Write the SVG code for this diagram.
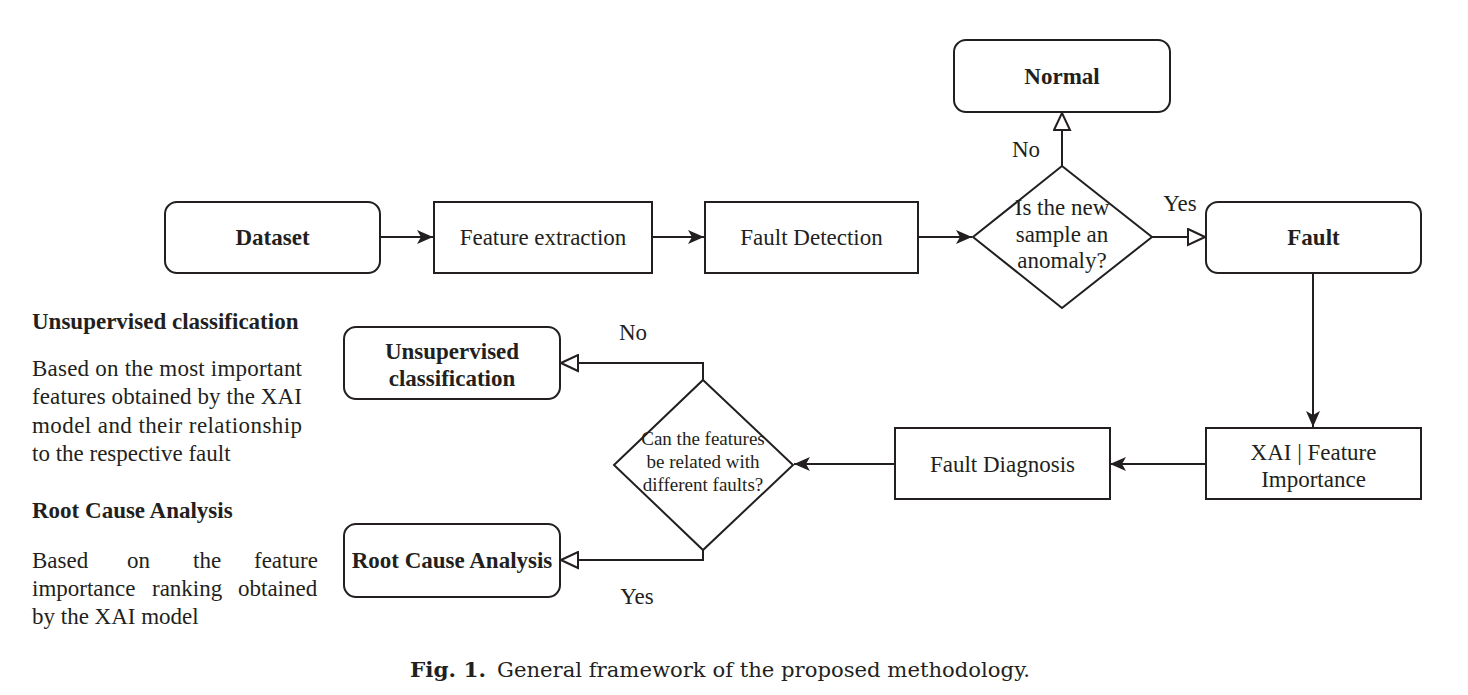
<svg xmlns="http://www.w3.org/2000/svg" width="1468" height="695" viewBox="0 0 1468 695">
<style>
.box{fill:#fff;stroke:#231f20;stroke-width:2}
.t{font-family:"Liberation Serif","Times New Roman",serif;font-size:23px;fill:#231f20}
.b{font-weight:bold}
.c{text-anchor:middle}
.s{font-size:19px}
.e{fill:none;stroke:#231f20;stroke-width:2}
.cap{font-family:"DejaVu Serif",serif;font-size:20px;fill:#231f20}
</style>
<defs>
<marker id="fill" markerUnits="userSpaceOnUse" markerWidth="16" markerHeight="14" viewBox="0 0 16 14" refX="16" refY="7" orient="auto">
<path d="M0,0 L16,7 L0,14 L4,7 Z" fill="#231f20"/>
</marker>
<marker id="open" markerUnits="userSpaceOnUse" markerWidth="19" markerHeight="19" viewBox="0 0 19 19" refX="18" refY="9.5" orient="auto">
<path d="M1,1.5 L18,9.5 L1,17.5 Z" fill="#fff" stroke="#231f20" stroke-width="2"/>
</marker>
</defs>
<rect width="1468" height="695" fill="#fff"/>

<g id="connectors">
<path class="e" d="M380,237 L433,237" marker-end="url(#fill)"/>
<path class="e" d="M652,237 L704,237" marker-end="url(#fill)"/>
<path class="e" d="M918,237 L972,237" marker-end="url(#fill)"/>
<path class="e" d="M1062,166 L1062,113" marker-end="url(#open)"/>
<path class="e" d="M1152,237 L1205,237" marker-end="url(#open)"/>
<path class="e" d="M1313,273 L1313,427" marker-end="url(#fill)"/>
<path class="e" d="M1206,464 L1110,464" marker-end="url(#fill)"/>
<path class="e" d="M895,464 L794,464" marker-end="url(#fill)"/>
<path class="e" d="M703,380 L703,363 L561,363" marker-end="url(#open)"/>
<path class="e" d="M703,550 L703,560 L561,560" marker-end="url(#open)"/>
<text class="t c" x="1026" y="157">No</text>
<text class="t c" x="1180" y="211">Yes</text>
<text class="t c" x="633" y="340">No</text>
<text class="t c" x="637" y="604">Yes</text>
</g>

<g id="dataset">
<rect class="box" x="165" y="202" width="215" height="71" rx="12"/>
<text class="t b c" x="272.5" y="245">Dataset</text>
</g>
<g id="feature-extraction">
<rect class="box" x="434" y="202" width="218" height="71"/>
<text class="t c" x="543" y="245">Feature extraction</text>
</g>
<g id="fault-detection">
<rect class="box" x="705" y="202" width="213" height="71"/>
<text class="t c" x="811.5" y="245">Fault Detection</text>
</g>
<g id="anomaly-decision">
<path class="box" d="M1062,166 L1152,237 L1062,308 L973,237 Z"/>
<text class="t c" x="1062" y="215">Is the new</text>
<text class="t c" x="1062" y="242">sample an</text>
<text class="t c" x="1062" y="268">anomaly?</text>
</g>
<g id="normal">
<rect class="box" x="954" y="40" width="216" height="72" rx="12"/>
<text class="t b c" x="1062" y="84">Normal</text>
</g>
<g id="fault">
<rect class="box" x="1206" y="202" width="215" height="71" rx="12"/>
<text class="t b c" x="1313.5" y="245">Fault</text>
</g>
<g id="xai">
<rect class="box" x="1206" y="428" width="215" height="71"/>
<text class="t c" x="1313.5" y="460">XAI | Feature</text>
<text class="t c" x="1313.5" y="487">Importance</text>
</g>
<g id="fault-diagnosis">
<rect class="box" x="895" y="428" width="215" height="71"/>
<text class="t c" x="1002.5" y="472">Fault Diagnosis</text>
</g>
<g id="features-decision">
<path class="box" d="M703,380 L793,465 L703,550 L614,465 Z"/>
<text class="t s c" x="703" y="445">Can the features</text>
<text class="t s c" x="703" y="468">be related with</text>
<text class="t s c" x="703" y="491">different faults?</text>
</g>
<g id="unsupervised">
<rect class="box" x="344" y="327" width="216" height="72" rx="12"/>
<text class="t b c" x="452" y="359">Unsupervised</text>
<text class="t b c" x="452" y="386">classification</text>
</g>
<g id="rca">
<rect class="box" x="344" y="524" width="216" height="73" rx="12"/>
<text class="t b c" x="452" y="568">Root Cause Analysis</text>
</g>

<g id="legend">
<text class="t b" x="32" y="329">Unsupervised classification</text>
<text class="t" x="32" y="376" textLength="270" lengthAdjust="spacing">Based on the most important</text>
<text class="t" x="32" y="404" textLength="270" lengthAdjust="spacing">features obtained by the XAI</text>
<text class="t" x="32" y="433" textLength="270" lengthAdjust="spacing">model and their relationship</text>
<text class="t" x="32" y="461">to the respective fault</text>
<text class="t b" x="32" y="518">Root Cause Analysis</text>
<text class="t" y="568"><tspan x="32">Based</tspan><tspan x="127">on</tspan><tspan x="193">the</tspan><tspan x="254">feature</tspan></text>
<text class="t" y="596"><tspan x="32">importance</tspan><tspan x="152">ranking</tspan><tspan x="238">obtained</tspan></text>
<text class="t" x="32" y="624">by the XAI model</text>
</g>

<g id="caption">
<text class="cap b" x="410" y="677" textLength="76" lengthAdjust="spacingAndGlyphs">Fig. 1.</text>
<text class="cap" x="497" y="677" textLength="533" lengthAdjust="spacingAndGlyphs">General framework of the proposed methodology.</text>
</g>
</svg>
